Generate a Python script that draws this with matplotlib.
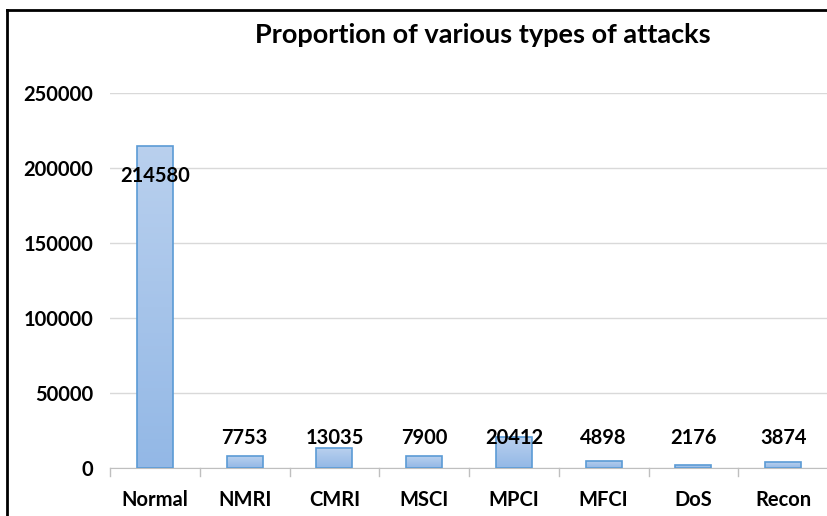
import numpy as np
import matplotlib
matplotlib.use("Agg")
import matplotlib.pyplot as plt
from matplotlib.colors import LinearSegmentedColormap
from matplotlib.lines import Line2D

categories = ["Normal", "NMRI", "CMRI", "MSCI", "MPCI", "MFCI", "DoS", "Recon"]
counts = [214580, 7753, 13035, 7900, 20412, 4898, 2176, 3874]
yticks = [0, 50000, 100000, 150000, 200000, 250000]

plt.rcParams['font.family'] = ['Lato', 'DejaVu Sans']
FW = 'bold'

fig = plt.figure(figsize=(8.27, 5.16), dpi=100)
ax = fig.add_axes([110 / 827, 48 / 516, 718 / 827, 375 / 516])

x = np.arange(len(categories))
bars = ax.bar(x, counts, width=0.4, color='none', edgecolor='#5B9BD5', linewidth=1.2, zorder=3)

# vertical gradient inside each bar, light on top, stronger blue at bottom
grad = LinearSegmentedColormap.from_list('g', ['#93B8E6', '#B9D0EE'])
for b in bars:
    x0, y0 = b.get_x(), b.get_y()
    w, h = b.get_width(), b.get_height()
    im = ax.imshow(np.linspace(0, 1, 100).reshape(-1, 1), cmap=grad, aspect='auto',
                   origin='lower', extent=(x0, x0 + w, y0, y0 + h), zorder=2)
    im.set_clip_path(b)

ax.set_xlim(-0.5, len(categories) - 0.5)
ax.set_ylim(0, 250000)
ax.set_yticks(yticks)
ax.set_yticklabels([str(v) for v in yticks], fontsize=14.5, fontweight=FW)
ax.set_xticks(x)
ax.set_xticklabels(categories, fontsize=14.5, fontweight=FW)
ax.tick_params(axis='y', length=0, pad=12)
ax.tick_params(axis='x', length=0, pad=16)

# category separator ticks below the axis
for i in range(len(categories) + 1):
    ax.plot([i - 0.5, i - 0.5], [0, -5500], color='#BFBFBF', lw=1, clip_on=False, zorder=1)

ax.grid(axis='y', color='#D9D9D9', lw=1, zorder=0)
ax.set_axisbelow(True)
for s in ['top', 'right', 'left']:
    ax.spines[s].set_visible(False)
ax.spines['bottom'].set_color('#BFBFBF')

# Excel put the small-bar labels at a common height; the tall one sits inside
for i, v in enumerate(counts):
    ypos = v - 20000 if v > 150000 else 20000
    ax.text(i, ypos, str(v), ha='center', va='center', fontsize=14.5, fontweight=FW, zorder=4)

fig.text(483 / 827, 1 - 35 / 516, "Proportion of various types of attacks",
         ha='center', va='center', fontsize=19.5, fontweight=FW)

# outer chart frame
fig.add_artist(Line2D([7 / 827, 7 / 827], [0, 1 - 10 / 516], color='black', lw=2, transform=fig.transFigure))
fig.add_artist(Line2D([7 / 827, 1], [1 - 10 / 516, 1 - 10 / 516], color='black', lw=2, transform=fig.transFigure))

fig.savefig("out.png", dpi=100)
